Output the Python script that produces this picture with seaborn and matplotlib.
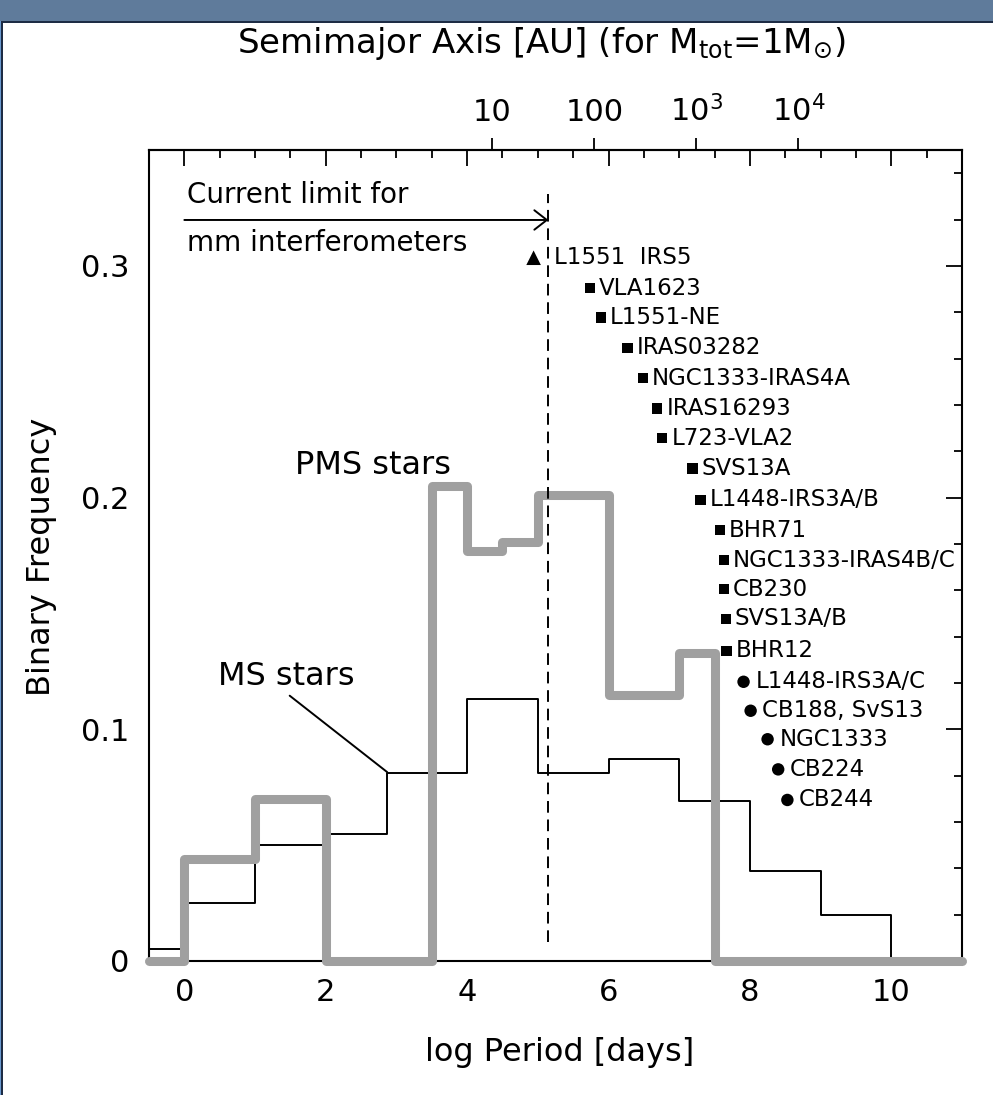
import numpy as np
import pandas as pd
import matplotlib
matplotlib.use("Agg")
import matplotlib.pyplot as plt
from matplotlib.patches import Rectangle
from matplotlib.ticker import MultipleLocator, FixedLocator, NullLocator
import seaborn as sns

# ---- binary-frequency histograms (bin edges in log P [days]) ----
ms_edges = [-0.5, 0.0, 1.0, 2.0, 2.87, 4.0, 5.0, 6.0, 7.0, 8.0, 9.0, 10.0, 11.0]
ms_freq = [0.005, 0.025, 0.050, 0.055, 0.081, 0.113, 0.081, 0.087, 0.069, 0.039, 0.020, 0.0]

pms_edges = [-0.5, 0.0, 1.0, 2.0, 3.5, 4.0, 4.5, 5.0, 6.0, 7.0, 7.5, 11.0]
pms_freq = [0.0, 0.044, 0.070, 0.0, 0.205, 0.177, 0.181, 0.201, 0.115, 0.133, 0.0]

# ---- protostellar binaries: log P and stacking height ----
src_names = ["L1551  IRS5", "VLA1623", "L1551-NE", "IRAS03282", "NGC1333-IRAS4A",
             "IRAS16293", "L723-VLA2", "SVS13A", "L1448-IRS3A/B", "BHR71",
             "NGC1333-IRAS4B/C", "CB230", "SVS13A/B", "BHR12", "L1448-IRS3A/C",
             "CB188, SvS13", "NGC1333", "CB224", "CB244"]
src_logp = [4.94, 5.74, 5.89, 6.27, 6.49, 6.69, 6.76, 7.19, 7.30, 7.58,
            7.63, 7.63, 7.66, 7.67, 7.91, 8.01, 8.25, 8.40, 8.53]
src_freq = [0.3035, 0.2903, 0.2777, 0.2647, 0.2515, 0.2385, 0.2256, 0.2126, 0.1990, 0.1860,
            0.1730, 0.1604, 0.1476, 0.1338, 0.1205, 0.1080, 0.0957, 0.0827, 0.0695]
src_kind = ["tri"] + ["sq"] * 13 + ["circ"] * 5

# interferometer resolution limit
limit_logp = 5.15

# top axis: semimajor axis ticks [AU]
sma_ticks = [10, 100, 1000, 10000]
sma_labels = ["10", "100", r"$10^3$", r"$10^4$"]

# ---------------------------------------------------------------
sns.set_style("white")
plt.rcParams["font.family"] = ["DejaVu Sans"]
plt.rcParams["mathtext.fontset"] = "dejavusans"
plt.rcParams["mathtext.default"] = "regular"
for key in ("text.color", "axes.labelcolor", "xtick.color", "ytick.color"):
    plt.rcParams[key] = "black"

W, H = 993, 1095
fig = plt.figure(figsize=(W / 100, H / 100), dpi=100)
fig.patch.set_facecolor("white")

# window-style frame around the figure
fig.patches.append(Rectangle((0, 1 - 21 / H), 1, 21 / H, transform=fig.transFigure,
                             facecolor="#5f7b9b", edgecolor="none", zorder=0))
fig.patches.append(Rectangle((0, 1 - 23 / H), 1, 2 / H, transform=fig.transFigure,
                             facecolor="#1d2c45", edgecolor="none", zorder=0))
fig.patches.append(Rectangle((0, 0), 3 / W, 1 - 21 / H, transform=fig.transFigure,
                             facecolor="#1d2c45", edgecolor="none", zorder=0))
fig.patches.append(Rectangle((0, 0), 1 / W, 1 - 21 / H, transform=fig.transFigure,
                             facecolor="#6b9ad0", edgecolor="none", zorder=0))

L, R, T, B = 149, 962, 150, 961
ax = fig.add_axes([L / W, 1 - B / H, (R - L) / W, (B - T) / H])
ax.set_facecolor("white")

# main-sequence histogram (thin black step)
df_ms = pd.DataFrame({"logP": ms_edges, "freq": ms_freq + [ms_freq[-1]]})
sns.lineplot(data=df_ms, x="logP", y="freq", ax=ax, color="black", lw=1.4,
             drawstyle="steps-post", sort=False, estimator=None, zorder=3)

# pre-main-sequence histogram (thick grey step)
df_pms = pd.DataFrame({"logP": pms_edges, "freq": pms_freq + [pms_freq[-1]]})
sns.lineplot(data=df_pms, x="logP", y="freq", ax=ax, color="#a0a0a0", lw=6.5,
             drawstyle="steps-post", sort=False, estimator=None, zorder=4,
             solid_joinstyle="round", solid_capstyle="round", clip_on=False)

# resolution limit
ax.plot([limit_logp, limit_logp], [0.008, 0.331], color="black", lw=1.4,
        dashes=(6, 3.5), zorder=5)
ax.annotate("", xy=(limit_logp, 0.3198), xytext=(0.0, 0.3198),
            arrowprops=dict(arrowstyle="->,head_length=0.45,head_width=0.35",
                            mutation_scale=20, lw=1.4, color="black",
                            shrinkA=0, shrinkB=0), zorder=5)
ax.text(0.04, 0.3306, "Current limit for", fontsize=20, ha="left", va="center")
ax.text(0.04, 0.3100, "mm interferometers", fontsize=20, ha="left", va="center")

# histogram labels
ax.text(1.57, 0.214, "PMS stars", fontsize=23, ha="left", va="center")
ax.text(0.47, 0.1227, "MS stars", fontsize=23, ha="left", va="center")
ax.plot([1.49, 2.87], [0.1145, 0.0815], color="black", lw=1.4, zorder=3)

# protostellar binaries
df_src = pd.DataFrame({"logP": src_logp, "freq": src_freq, "kind": src_kind,
                       "name": src_names})
marker_style = {"tri": ("^", 110, 15), "sq": ("s", 55, 6.5), "circ": ("o", 80, 8.5)}
for kind, (mk, size, off) in marker_style.items():
    sub = df_src[df_src["kind"] == kind]
    sns.scatterplot(data=sub, x="logP", y="freq", ax=ax, marker=mk, s=size,
                    color="black", edgecolor="none", zorder=6, legend=False)
    for _, row in sub.iterrows():
        ax.annotate(row["name"], xy=(row["logP"], row["freq"]),
                    xytext=(off, 0), textcoords="offset points",
                    fontsize=16.5, ha="left", va="center", annotation_clip=False,
                    zorder=6)

# ---- axes ----
ax.set_xlim(-0.5, 11)
ax.set_ylim(0, 0.35)
ax.xaxis.set_major_locator(MultipleLocator(2))
ax.xaxis.set_minor_locator(MultipleLocator(0.5))
ax.yaxis.set_major_locator(FixedLocator([0, 0.1, 0.2, 0.3]))
ax.yaxis.set_minor_locator(MultipleLocator(0.02))
ax.set_yticklabels(["0", "0.1", "0.2", "0.3"])
ax.tick_params(which="both", direction="in", top=True, right=True, width=1.3,
               colors="black", labelsize=22)
ax.tick_params(which="major", length=11.5)
ax.tick_params(which="minor", length=6)
ax.tick_params(axis="x", pad=12)
ax.tick_params(axis="y", pad=14)
for s in ax.spines.values():
    s.set_linewidth(1.5)
    s.set_color("black")

ax.set_xlabel("log Period [days]", fontsize=23, va="center")
ax.xaxis.set_label_coords((560 - L) / (R - L), -(1053 - B) / (B - T))
ax.set_ylabel("Binary Frequency", fontsize=23, va="center")
ax.yaxis.set_label_coords(-(L - 42) / (R - L), (B - 557) / (B - T))

# semimajor axis (for M_tot = 1 Msun) on top
def logp_to_loga(x):
    return 1.0 + (np.asarray(x) - 4.357) / 1.443


def loga_to_logp(a):
    return 4.357 + 1.443 * (np.asarray(a) - 1.0)


sec = ax.secondary_xaxis("top", functions=(logp_to_loga, loga_to_logp))
sec.xaxis.set_major_locator(FixedLocator(np.log10(sma_ticks)))
sec.xaxis.set_minor_locator(NullLocator())
sec.set_xticklabels(sma_labels)
sec.tick_params(direction="out", length=8.6, width=1.3, labelsize=22, pad=8,
                colors="black")
sec.spines["top"].set_linewidth(1.5)
ax.text((541 - L) / (R - L), (B - 43) / (B - T),
        r"Semimajor Axis [AU] (for M$_{\rm tot}$=1M$_{\odot}$)",
        transform=ax.transAxes, fontsize=24.5, ha="center", va="center")

fig.savefig("out.png", dpi=100, facecolor="white")
